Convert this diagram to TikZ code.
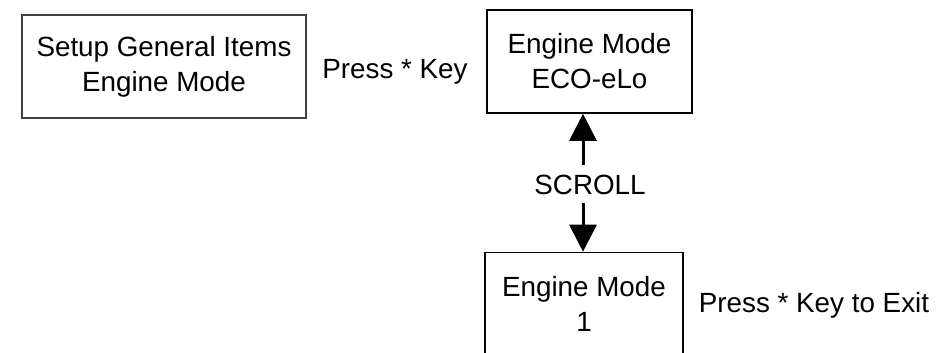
\documentclass[tikz,border=0pt]{standalone}
\usepackage{fontspec}
\setmainfont{Liberation Sans}
\usetikzlibrary{arrows.meta}
\begin{document}
\begin{tikzpicture}[x=1pt,y=-1pt,
  every node/.style={font=\fontsize{27.8}{35}\selectfont, inner sep=0pt},
  box/.style={draw=black, line width=1.6pt, align=center, minimum height=103pt},
  scrollarrow/.style={line width=3pt, -{Triangle[width=27pt,length=27pt]}}]
\useasboundingbox (0,0) rectangle (937,353);
\clip (0,0) rectangle (937,353);
\node[box, draw=black!75, line width=2pt, minimum width=284pt] (b1) at (164,66.5) {Setup General Items\\Engine Mode};
\node[box, minimum width=205pt] (b2) at (589.5,61.5) {Engine Mode\\ECO-eLo};
\node[box, minimum width=198pt] (b3) at (584,304) {Engine Mode\\1};
\node (p1) at (395,72) {Press * Key};
\node (p2) at (814,305) {Press * Key to Exit};
\node (sc) at (590,185) {SCROLL};
\coordinate (a1) at (583,165);
\coordinate (a2) at (583,203);
\draw[scrollarrow] (a1) -- (a1 |- b2.south);
\draw[scrollarrow] (a2) -- (a2 |- b3.north);
\end{tikzpicture}
\end{document}
